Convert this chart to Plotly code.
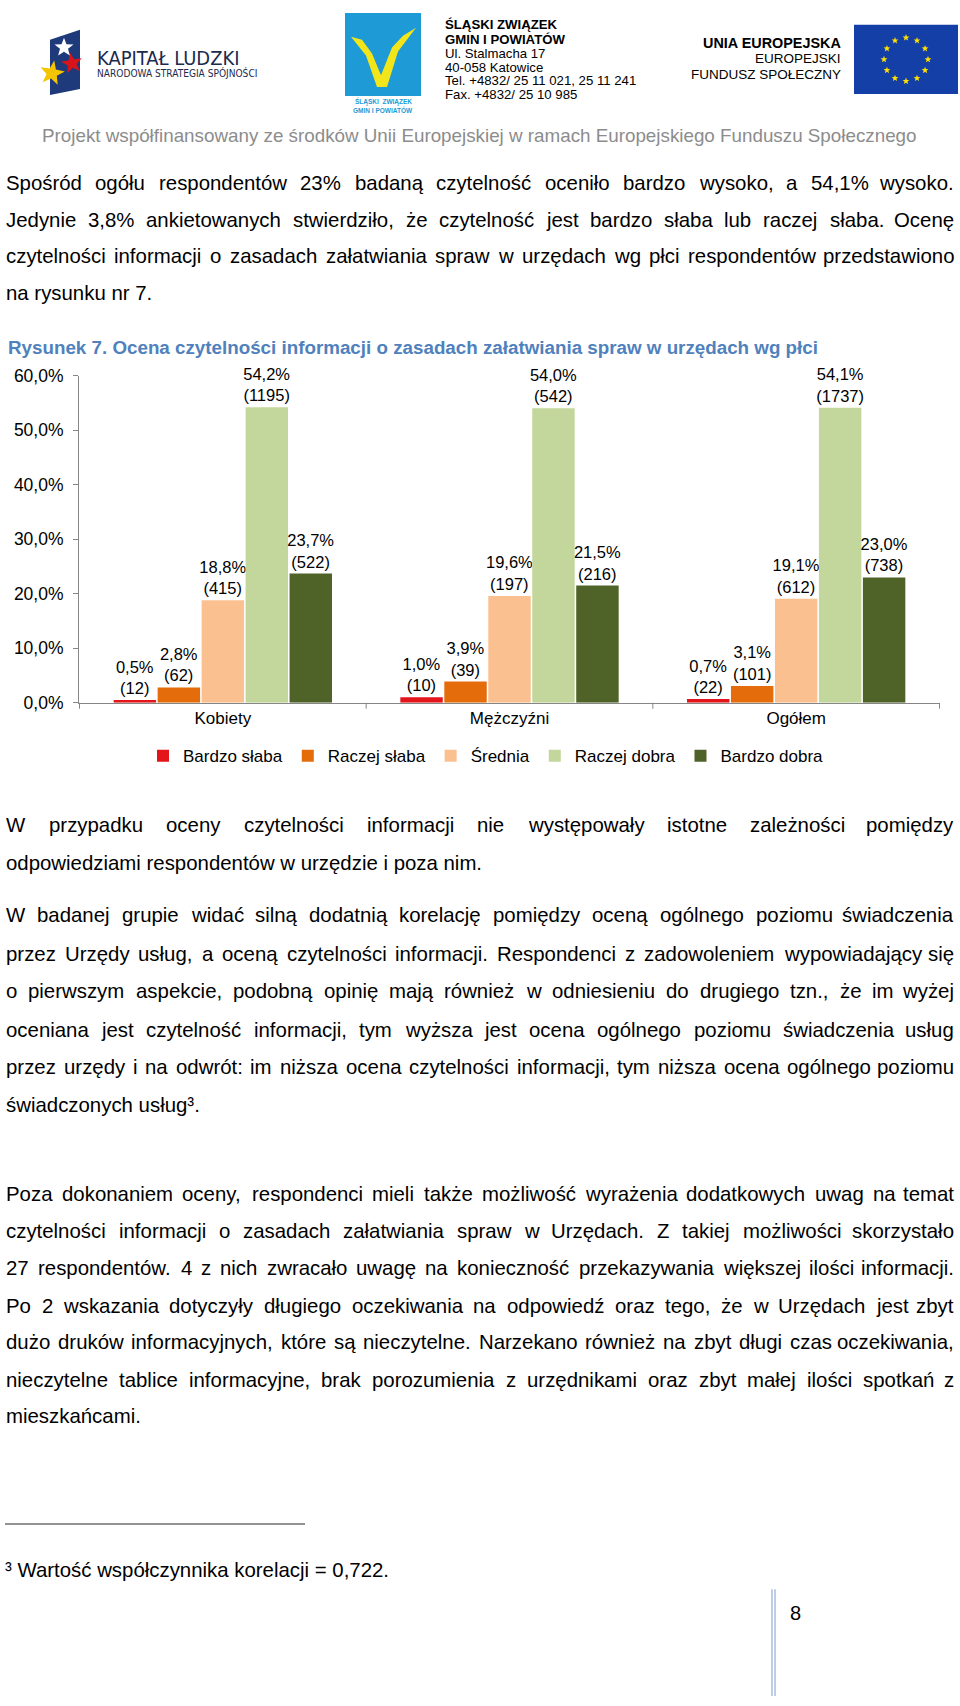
import math
import plotly.graph_objects as go

W, H = 960, 1706

# ---------------- data ----------------
categories = ["Kobiety", "Mężczyźni", "Ogółem"]
series_names = ["Bardzo słaba", "Raczej słaba", "Średnia", "Raczej dobra", "Bardzo dobra"]
series_colors = ["#E3151B", "#E46C0A", "#FAC090", "#C3D69B", "#4F6228"]
bardzo_slaba = [0.5, 1.0, 0.7]
raczej_slaba = [2.8, 3.9, 3.1]
srednia = [18.8, 19.6, 19.1]
raczej_dobra = [54.2, 54.0, 54.1]
bardzo_dobra = [23.7, 21.5, 23.0]
n_bardzo_slaba = [12, 10, 22]
n_raczej_slaba = [62, 39, 101]
n_srednia = [415, 197, 612]
n_raczej_dobra = [1195, 542, 1737]
n_bardzo_dobra = [522, 216, 738]
y_tick_values = [0, 10, 20, 30, 40, 50, 60]
y_tick_labels = ["0,0%", "10,0%", "20,0%", "30,0%", "40,0%", "50,0%", "60,0%"]

series_values = [bardzo_slaba, raczej_slaba, srednia, raczej_dobra, bardzo_dobra]
series_counts = [n_bardzo_slaba, n_raczej_slaba, n_srednia, n_raczej_dobra, n_bardzo_dobra]

title_text = "Rysunek 7. Ocena czytelności informacji o zasadach załatwiania spraw w urzędach wg płci"

para1 = [
    "Spośród ogółu respondentów 23% badaną czytelność oceniło bardzo wysoko, a 54,1% wysoko.",
    "Jedynie 3,8% ankietowanych stwierdziło, że czytelność jest bardzo słaba lub raczej słaba. Ocenę",
    "czytelności informacji o zasadach załatwiania spraw w urzędach wg płci respondentów przedstawiono",
    "na rysunku nr 7.",
]
para2 = [
    "W przypadku oceny czytelności informacji nie występowały istotne zależności pomiędzy",
    "odpowiedziami respondentów w urzędzie i poza nim.",
]
para3 = [
    "W badanej grupie widać silną dodatnią korelację pomiędzy oceną ogólnego poziomu świadczenia",
    "przez Urzędy usług, a oceną czytelności informacji. Respondenci z zadowoleniem wypowiadający się",
    "o pierwszym aspekcie, podobną opinię mają również w odniesieniu do drugiego tzn., że im wyżej",
    "oceniana jest czytelność informacji, tym wyższa jest ocena ogólnego poziomu świadczenia usług",
    "przez urzędy i na odwrót: im niższa ocena czytelności informacji, tym niższa ocena ogólnego poziomu",
    "świadczonych usług³.",
]
para4 = [
    "Poza dokonaniem oceny, respondenci mieli także możliwość wyrażenia dodatkowych uwag na temat",
    "czytelności informacji o zasadach załatwiania spraw w Urzędach. Z takiej możliwości skorzystało",
    "27 respondentów. 4 z nich zwracało uwagę na konieczność przekazywania większej ilości informacji.",
    "Po 2 wskazania dotyczyły długiego oczekiwania na odpowiedź oraz tego, że w Urzędach jest zbyt",
    "dużo druków informacyjnych, które są nieczytelne. Narzekano również na zbyt długi czas oczekiwania,",
    "nieczytelne tablice informacyjne, brak porozumienia z urzędnikami oraz zbyt małej ilości spotkań z",
    "mieszkańcami.",
]
footnote_text = "³ Wartość współczynnika korelacji = 0,722."
project_text = "Projekt współfinansowany ze środków Unii Europejskiej w ramach Europejskiego Funduszu Społecznego"
address_lines = ["ŚLĄSKI ZWIĄZEK", "GMIN I POWIATÓW", "Ul. Stalmacha 17", "40-058 Katowice",
                 "Tel. +4832/ 25 11 021, 25 11 241", "Fax. +4832/ 25 10 985"]

# ---------------- helpers ----------------
FONT = "Liberation Sans, Arial, Helvetica, sans-serif"
NARROW = "Liberation Sans Narrow, Arial Narrow, DejaVu Sans Condensed, sans-serif"


def X(px):
    return px / W


def Y(py):
    return 1 - py / H


AW = {" ": 278, "%": 889, "(": 333, ")": 333, "+": 584, ",": 278, "-": 333, ".": 278, "/": 278,
      ":": 278, "=": 584, "³": 333}
for d in "0123456789":
    AW[d] = 556
caps = dict(A=667, B=667, C=722, D=722, E=667, F=611, G=778, H=722, I=278, J=500, K=667, L=556,
            M=833, N=722, O=778, P=667, Q=778, R=722, S=667, T=611, U=722, V=667, W=944, X=667,
            Y=667, Z=611)
lows = dict(a=556, b=556, c=500, d=556, e=556, f=278, g=556, h=556, i=222, j=222, k=500, l=222,
            m=833, n=556, o=556, p=556, q=556, r=333, s=500, t=278, u=556, v=500, w=722, x=500,
            y=500, z=500)
AW.update(caps)
AW.update(lows)
for pl, base in zip("ąćęłńóśźżĄĆĘŁŃÓŚŹŻ", "acelnoszzACELNOSZZ"):
    AW[pl] = AW[base]


def em(s):
    return sum(AW.get(c, 556) for c in s) / 1000.0


annotations = []


def txt(s, x, y, size, color="#000000", xanchor="left", bold=False, family=FONT):
    annotations.append(dict(
        text=("<b>%s</b>" % s) if bold else s, x=X(x), y=Y(y), xref="paper", yref="paper",
        xanchor=xanchor, yanchor="middle", showarrow=False, borderpad=0,
        font=dict(family=family, size=size, color=color)))


BODY = 20.4
LEFT, RIGHT = 5, 955


def justified(line, yc, size=BODY):
    words = line.split(" ")
    widths = [em(w) * size for w in words]
    gap = (RIGHT - LEFT - sum(widths)) / (len(words) - 1)
    x = LEFT
    for i, (w, wd) in enumerate(zip(words, widths)):
        if i == len(words) - 1:
            txt(w, RIGHT, yc, size, xanchor="right")
        else:
            txt(w, x, yc, size)
        x += wd + gap


def paragraph(lines, ys):
    for k, (line, yc) in enumerate(zip(lines, ys)):
        if k == len(lines) - 1:
            txt(line, LEFT, yc, BODY)
        else:
            justified(line, yc)


shapes = []


def poly(points, color):
    d = "M " + " L ".join("%f,%f" % (X(px), Y(py)) for px, py in points) + " Z"
    shapes.append(dict(type="path", xref="paper", yref="paper", path=d,
                       fillcolor=color, line=dict(width=0)))


def star(cx, cy, r, color, rot=-90):
    pts = []
    for k in range(10):
        rr = r if k % 2 == 0 else r * 0.42
        a = math.radians(rot + k * 36)
        pts.append((cx + rr * math.cos(a), cy + rr * math.sin(a)))
    poly(pts, color)


# ---------------- chart ----------------
fig = go.Figure()
for name, vals, counts, color in zip(series_names, series_values, series_counts, series_colors):
    labels = [("%.1f" % v).replace(".", ",") + "%%<br>(%d)" % n for v, n in zip(vals, counts)]
    fig.add_trace(go.Bar(
        name=name, x=categories, y=vals, marker=dict(color=color, line=dict(width=0)),
        text=labels, textposition="outside", constraintext="none", cliponaxis=False,
        textfont=dict(family=FONT, size=16.5, color="#000000"), hoverinfo="skip"))

# category separator ticks (at category boundaries on the x axis, hanging below it)
for i in range(len(categories) + 1):
    shapes.append(dict(type="line", xref="x", yref="paper", x0=i - 0.5, x1=i - 0.5,
                       y0=Y(707), y1=Y(701), line=dict(color="#868686", width=1)))

# ---------------- header ----------------
# Kapitał Ludzki logo
poly([(50, 30), (80, 20), (80, 80), (50, 86)], "#1F3A7A")
star(52, 64, 13, "#F4C400", rot=-80)
star(72, 54, 11, "#D7141A", rot=-100)
star(64, 38, 10, "#FFFFFF", rot=-90)
txt("KAPITAŁ LUDZKI", 96, 49, 130 / (0.82 * em("KAPITAŁ LUDZKI")), color="#1B2A4E", family=NARROW)
txt("NARODOWA STRATEGIA SPÓJNOŚCI", 96, 64, 149 / (0.82 * em("NARODOWA STRATEGIA SPÓJNOŚCI")),
    color="#1B2A4E", family=NARROW)

# Śląski Związek logo
shapes.append(dict(type="rect", xref="paper", yref="paper", x0=X(345), x1=X(421), y0=Y(87), y1=Y(3),
                   fillcolor="#1E9AD6", line=dict(width=0)))
poly([(351, 27), (362, 30), (372, 44), (381, 66), (392, 38), (403, 26), (416, 18),
      (398, 42), (387, 78), (377, 78), (366, 46)], "#F2E61A")
txt("ŚLĄSKI  ZWIĄZEK", 383, 93, 6.5, color="#1E9AD6", xanchor="center", bold=True)
txt("GMIN I POWIATÓW", 383, 101, 6.5, color="#1E9AD6", xanchor="center", bold=True)
for k, (line, yy) in enumerate(zip(address_lines, [15, 30, 44, 58, 71, 85])):
    txt(line, 444, yy, 13.2, bold=(k < 2))

# Unia Europejska
txt("UNIA EUROPEJSKA", 842, 33, 14.4, xanchor="right", bold=True)
txt("EUROPEJSKI", 842, 49, 13.5, xanchor="right")
txt("FUNDUSZ SPOŁECZNY", 842, 65, 13.5, xanchor="right")
shapes.append(dict(type="rect", xref="paper", yref="paper", x0=X(854), x1=X(958), y0=Y(85), y1=Y(15),
                   fillcolor="#143FA6", line=dict(width=0)))
for k in range(12):
    a = math.radians(k * 30)
    star(906 + 22 * math.cos(a), 50 + 22 * math.sin(a), 3.6, "#FFE000")

txt(project_text, 41, 127, 875 / em(project_text), color="#8C8C8C")

# ---------------- body text ----------------
paragraph(para1, [175, 212, 249, 286])
txt(title_text, 7, 341, 18.8, color="#4F81BD", bold=True)
paragraph(para2, [825, 863])
paragraph(para3, [916, 955, 993, 1032, 1070, 1108])
paragraph(para4, [1198, 1235, 1273, 1311, 1348, 1386, 1423])

# footnote
shapes.append(dict(type="line", xref="paper", yref="paper", x0=X(5), x1=X(305), y0=Y(1532), y1=Y(1532),
                   line=dict(color="#6E6E6E", width=1.5)))
txt(footnote_text, 4, 1578, 20.4)

# page number
for xx in (772, 775):
    shapes.append(dict(type="line", xref="paper", yref="paper", x0=X(xx), x1=X(xx), y0=Y(1706), y1=Y(1598),
                       line=dict(color="#7F9CC8", width=1)))
txt("8", 789, 1622, 20)

fig.update_layout(
    width=W, height=H, margin=dict(l=0, r=0, t=0, b=0),
    paper_bgcolor="white", plot_bgcolor="white",
    barmode="group", bargap=0.233, bargroupgap=0.035,
    font=dict(family=FONT, color="#000000"),
    showlegend=True,
    legend=dict(orientation="h", x=X(486), xanchor="center", y=Y(755), yanchor="middle",
                font=dict(family=FONT, size=17, color="#000000"), itemwidth=30,
                traceorder="normal", bgcolor="rgba(0,0,0,0)"),
    xaxis=dict(domain=[X(79), X(940)], type="category", showline=True, linecolor="#868686",
               ticks="", ticklen=6, tickfont=dict(family=FONT, size=17, color="#000000"),
               showgrid=False, zeroline=False, fixedrange=True),
    yaxis=dict(domain=[Y(701), Y(370)], range=[0, 60], tickvals=y_tick_values, ticktext=y_tick_labels,
               showline=True, linecolor="#868686", ticks="outside", ticklen=5, tickcolor="#868686",
               tickfont=dict(family=FONT, size=17.5, color="#000000"), showgrid=False,
               zeroline=False, ticklabelstandoff=6, fixedrange=True),
    annotations=annotations, shapes=shapes,
)

fig.write_html("out.html", config={"displayModeBar": False},
               post_script="document.body.style.margin='0';document.body.style.overflow='hidden';")
